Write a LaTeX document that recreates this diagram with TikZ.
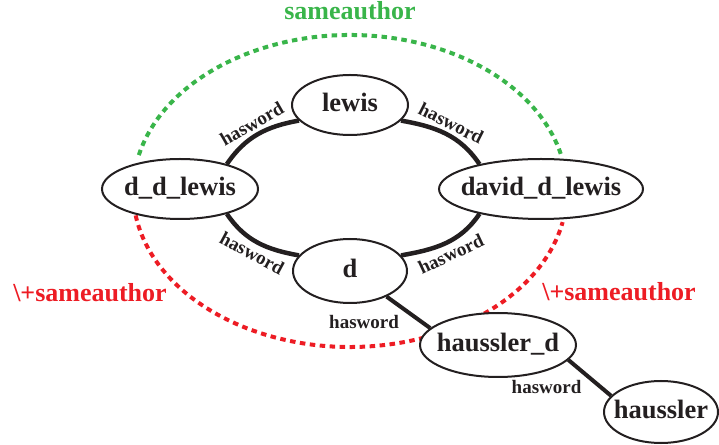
\documentclass[tikz,border=0pt]{standalone}
\usepackage{fontspec}
\setmainfont{Liberation Serif}
\usetikzlibrary{shapes.geometric,positioning}
\definecolor{samegreen}{RGB}{57,181,74}
\definecolor{notred}{RGB}{237,28,36}
\definecolor{ink}{RGB}{35,31,32}
\begin{document}
\begin{tikzpicture}[x=1pt,y=1pt,
  main node/.style={ellipse,draw=ink,fill=white,line width=2pt,inner sep=0pt,text=ink,
    text height=18pt,text depth=5pt,font=\fontsize{26.5}{28}\selectfont\bfseries},
  word/.style={font=\fontsize{19}{21}\selectfont\bfseries,text=ink,inner sep=3pt},
  tag/.style={font=\fontsize{26}{28}\selectfont\bfseries,inner sep=0pt,anchor=base},
  same/.style={samegreen,line width=4pt,dash pattern=on 5.5pt off 4.5pt},
  notsame/.style={notred,line width=4pt,dash pattern=on 5.5pt off 4.5pt}]
\useasboundingbox (0,0) rectangle (719,444);
%author arcs
  \coordinate (c) at (350,253);
  \draw[same] (c) ++(166.7:217pt and 156pt)
    arc[start angle=166.7,end angle=13.3,x radius=217pt,y radius=156pt];
  \draw[notsame] (c) ++(189:217pt and 156pt)
    arc[start angle=189,end angle=348.5,x radius=217pt,y radius=156pt];
  \node[tag,text=samegreen] (sa) at (350,424) {sameauthor};
  \node[tag,text=notred] (nsl) at (90,142) {\textbackslash+sameauthor};
  \node[tag,text=notred] (nsr) at (619,143) {\textbackslash+sameauthor};
%1
  \node[main node,minimum width=116pt,minimum height=60pt] (lewis) at (350,339) {\makebox[0pt]{lewis}};
%2
  \node[main node,minimum width=156pt,minimum height=60pt] (ddl) at (180,255) {\makebox[0pt]{d\_d\_lewis}};
%3
  \node[main node,minimum width=204pt,minimum height=60pt] (dav) at (541,255) {\makebox[0pt]{david\_d\_lewis}};
%4
  \node[main node,minimum width=114pt,minimum height=64pt] (d) at (350,173) {\makebox[0pt]{d}};
%5
  \node[main node,minimum width=156pt,minimum height=64pt] (hd) at (498,99) {\makebox[0pt]{haussler\_d}};
%6
  \node[main node,minimum width=114pt,minimum height=62pt] (hau) at (661,32) {\makebox[0pt]{haussler}};
%paths
  \path[every edge/.style={draw=ink,line width=4.5pt}]
    (ddl.28) edge[out=56,in=190] node[word,sloped,above] {hasword} (lewis.197)
    (lewis.343) edge[out=-10,in=124] node[word,sloped,above] {hasword} (dav.158)
    (dav.202) edge[out=236,in=10] node[word,sloped,below] {hasword} (d.17)
    (d.163) edge[out=170,in=-56] node[word,sloped,below] {hasword} (ddl.-28);
  \path[every edge/.style={draw=ink,line width=4pt}]
    (d.-35) edge node[word,pos=0.81,left=18pt] {hasword} (hd.166)
    (hd.-12) edge node[word,pos=0.75,left=14pt] {hasword} (hau.162);
\end{tikzpicture}
\end{document}
